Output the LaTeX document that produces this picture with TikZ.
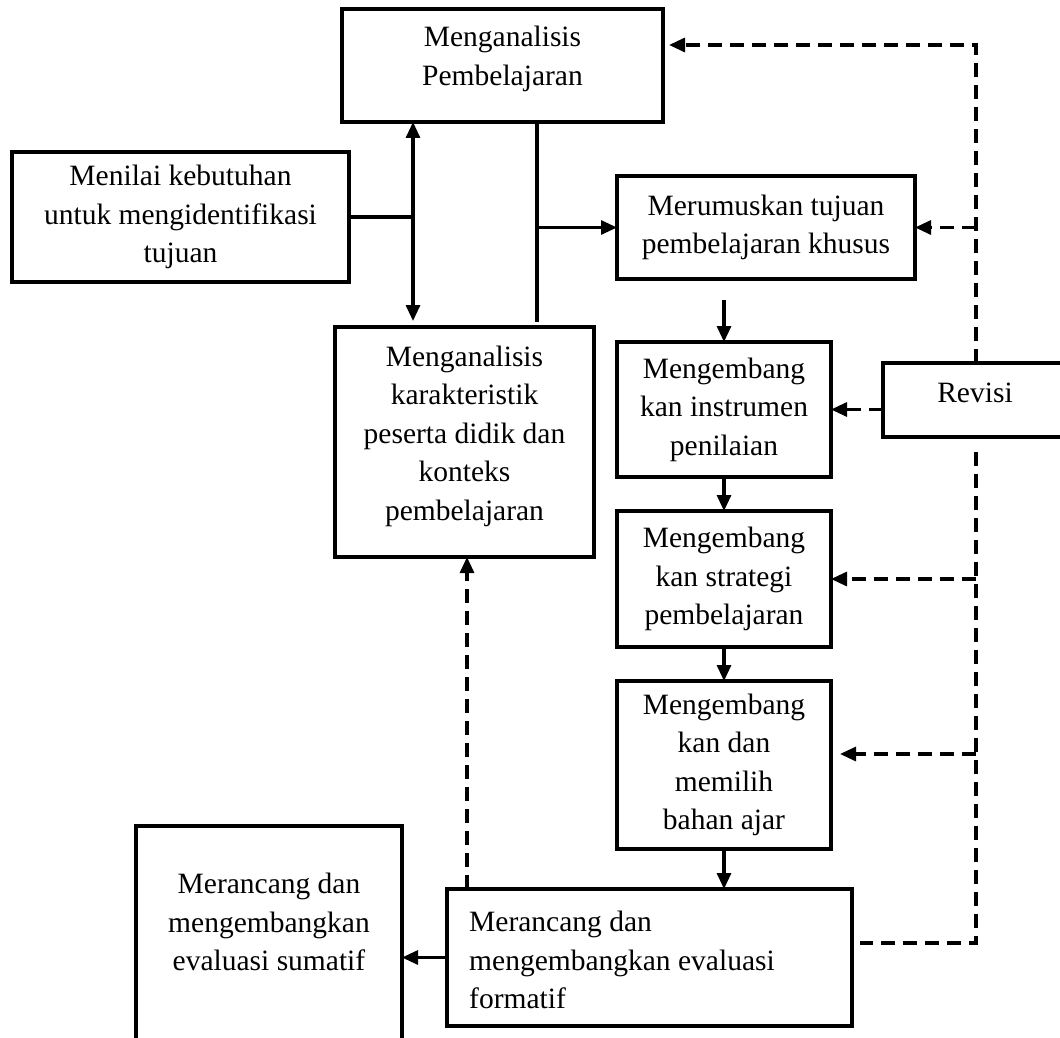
\documentclass[tikz,border=0pt]{standalone}
\usepackage{fontspec}
\setmainfont{Liberation Serif}
\usetikzlibrary{arrows.meta,calc}
\begin{document}
\begin{tikzpicture}[x=1pt,y=-1pt,
  bx/.style={draw,line width=3.1pt,inner sep=0pt,outer sep=0pt},
  tx/.style={font=\fontsize{29.5}{38.5}\selectfont,align=center,inner sep=0pt},
  tip/.style={-{Triangle[length=16pt,width=14pt]}},
  ln/.style={line width=3.1pt},
  arr/.style={ln,tip},
  dsh/.style={line width=3.1pt,dash pattern=on 14pt off 8pt},
]
\useasboundingbox (0,0) rectangle (1060,1038);
\clip (0,0) rectangle (1060,1038);
% boxes
\node[bx,minimum width=321pt,minimum height=113pt] (A) at (502.5,65.5) {};
\node[tx] (At) at (502.5,59) {Menganalisis\\Pembelajaran};
\node[bx,tx,minimum width=337pt,minimum height=130pt] (B) at (180.5,217) {Menilai kebutuhan\\untuk mengidentifikasi\\tujuan};
\node[bx,tx,minimum width=298pt,minimum height=103pt] (C) at (766,227.5) {Merumuskan tujuan\\pembelajaran khusus};
\node[bx,minimum width=259pt,minimum height=230pt] (D) at (464.5,442) {};
\node[tx] (Dt) at (464.5,436) {Menganalisis\\karakteristik\\peserta didik dan\\konteks\\pembelajaran};
\node[bx,tx,minimum width=214pt,minimum height=135pt] (E) at (724,409.5) {Mengembang\\kan instrumen\\penilaian};
\node[bx,tx,minimum width=214pt,minimum height=136pt] (F) at (724,579) {Mengembang\\kan strategi\\pembelajaran};
\node[bx,tx,minimum width=214pt,minimum height=168pt] (G) at (724,765) {Mengembang\\kan dan\\memilih\\bahan ajar};
\node[bx,minimum width=405pt,minimum height=137pt] (H) at (649.5,957.5) {};
\node[tx,align=left,anchor=west] (Ht) at (469,960) {Merancang dan\\mengembangkan evaluasi\\formatif};
\node[bx,minimum width=266pt,minimum height=234pt] (I) at (269,943) {};
\node[tx] (It) at (269,922) {Merancang dan\\mengembangkan\\evaluasi sumatif};
\node[bx,minimum width=184pt,minimum height=74pt] (rev) at (975,400) {};
\node[tx] (revt) at (975,393) {Revisi};
% helper coordinates
\coordinate (xl) at (413,0);
\coordinate (xm) at (537,0);
\coordinate (xr) at (976,0);
\coordinate (xd) at (467,0);
\coordinate (top) at (976,45);
\coordinate (c5) at ($(C.south)+(0,21)$);
\coordinate (revs) at ($(rev.south)+(0,15)$);
\coordinate (bot) at (976,943);
\coordinate (hend) at ($(H.east)+(8,0)$);
\coordinate (g1) at (976,754);
% solid connectors
\draw[ln,{Triangle[length=16pt,width=14pt]}-{Triangle[length=16pt,width=14pt]},shorten >=6pt] (A.south -| xl) -- (D.north -| xl);
\draw[ln] (B.east) -- (B.east -| xl);
\draw[ln,shorten >=5pt] (A.south -| xm) -- (D.north -| xm);
\draw[arr] (C.west -| xm) -- (C.west);
\draw[arr] (E.north |- c5) -- (E.north);
\draw[arr] (E.south) -- (F.north);
\draw[arr] (F.south) -- (G.north);
\draw[arr] (G.south) -- (G.south |- H.north);
\draw[arr] (H.west) -- (H.west -| I.east);
% dashed connectors
\draw[dsh,tip] (H.north -| xd) -- (D.south -| xd);
\draw[dsh,tip,shorten >=6pt] (rev.north -| xr) -- (top) -- (top -| A.east);
\draw[dsh,tip] (C.east -| xr) -- (C.east);
\draw[dsh,tip] (rev.west |- E.east) -- (E.east);
\draw[dsh,tip] (F.east -| xr) -- (F.east);
\draw[dsh,tip,shorten >=9pt] (g1) -- (g1 -| G.east);
\draw[dsh] (revs -| xr) -- (bot) -- (bot -| hend);
\end{tikzpicture}
\end{document}
